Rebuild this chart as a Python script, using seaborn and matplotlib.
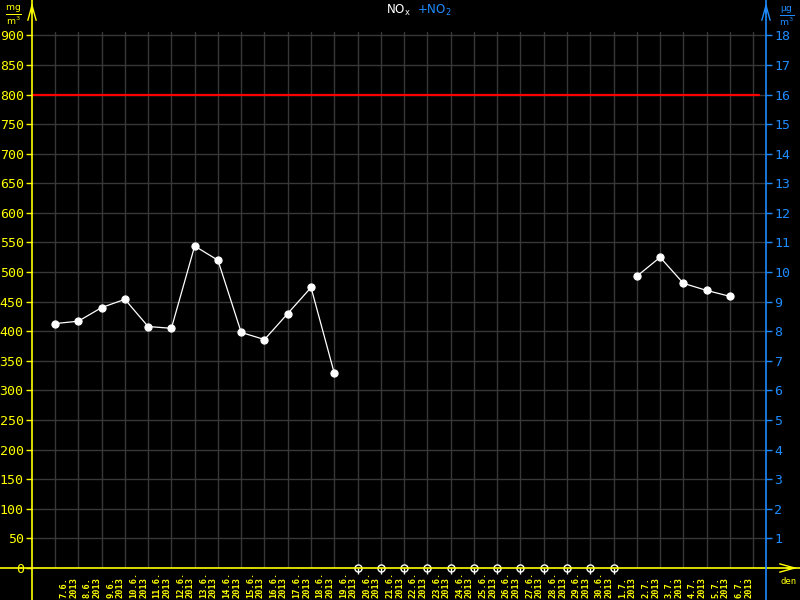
import matplotlib
matplotlib.use('Agg')
import matplotlib.pyplot as plt
import matplotlib.transforms as mtrans
import numpy as np
import pandas as pd
import seaborn as sns

# daily NOx averages, 7.6.2013 - 6.7.2013 (NaN = no data)
dates = ['7.6.', '8.6.', '9.6.', '10.6.', '11.6.', '12.6.', '13.6.', '14.6.',
         '15.6.', '16.6.', '17.6.', '18.6.', '19.6.', '20.6.', '21.6.', '22.6.',
         '23.6.', '24.6.', '25.6.', '26.6.', '27.6.', '28.6.', '29.6.', '30.6.',
         '1.7.', '2.7.', '3.7.', '4.7.', '5.7.', '6.7.']
year = '2013'
nan = np.nan
nox = [413, 417, 440, 454, 408, 405, 544, 520, 398, 386, 430, 474, 329,
       nan, nan, nan, nan, nan, nan, nan, nan, nan, nan, nan, nan,
       493, 525, 481, 469, 459]
limit = 800
left_ticks = list(range(0, 901, 50))
right_ticks = list(range(1, 19))

YELLOW = '#ffff00'
BLUE = '#1e8cff'
GRID = '#383838'

sns.set_theme(style='dark')
plt.rcParams['font.family'] = ['DejaVu Sans Mono', 'DejaVu Sans']

df = pd.DataFrame({'day': np.arange(len(dates)), 'nox': nox})
df['segment'] = df['nox'].isna().cumsum()
valid = df.dropna()
missing = df[df['nox'].isna()].assign(nox=0)

fig = plt.figure(figsize=(8, 6), dpi=100, facecolor='black')
ax = fig.add_axes([0.04, 0.05333, 0.9175, 0.8927])
ax.set_facecolor('black')

ax.set_xlim(-0.99, 30.55)
ax.set_ylim(0, 905)
ax.set_xticks(range(len(dates) + 1))
ax.set_yticks(left_ticks)
ax.grid(True, color=GRID, lw=1)
ax.set_axisbelow(True)
for s in ax.spines.values():
    s.set_visible(False)

ax.axhline(limit, xmin=0, xmax=0.9905, color='red', lw=1.6, zorder=3)

sns.lineplot(data=valid, x='day', y='nox', units='segment', estimator=None,
             color='white', lw=0.9, marker='o', markersize=5.2,
             markeredgecolor='white', ax=ax, zorder=4)
sns.scatterplot(data=missing, x='day', y='nox', marker='o', s=26,
                facecolor='black', edgecolor='white', linewidth=1,
                ax=ax, zorder=6, clip_on=False)
ax.plot(missing['day'], missing['nox'], ls='none', marker=3, markersize=4,
        color='white', mew=1, zorder=7, clip_on=False)

ax.set_xlabel('')
ax.set_ylabel('')
ax.tick_params(axis='x', colors=YELLOW, length=4, width=1, labelbottom=False)
ax.tick_params(axis='y', colors=YELLOW, length=4, width=1, pad=2, labelsize=9.5)

# axis lines running to the figure edges
ax.plot([0, 0], [-0.06, 1.061], transform=ax.transAxes, color=YELLOW, lw=1.2, clip_on=False, zorder=8)
ax.plot([-0.0436, 1.0463], [0, 0], transform=ax.transAxes, color=YELLOW, lw=1.2, clip_on=False, zorder=8)
ax.plot([1, 1], [-0.06, 1.061], transform=ax.transAxes, color=BLUE, lw=1.2, clip_on=False, zorder=8)

arrow = '->,head_length=0.9,head_width=0.25'
ax.annotate('', xy=(32, 600), xytext=(32, 584), xycoords='figure pixels',
            arrowprops=dict(arrowstyle=arrow, color=YELLOW, lw=1))
ax.annotate('', xy=(766, 600), xytext=(766, 584), xycoords='figure pixels',
            arrowprops=dict(arrowstyle=arrow, color=BLUE, lw=1))
ax.annotate('', xy=(800, 32), xytext=(784, 32), xycoords='figure pixels',
            arrowprops=dict(arrowstyle=arrow, color=YELLOW, lw=1))

ax2 = ax.twinx()
ax2.set_ylim(0, 905 / 50)
ax2.set_yticks(right_ticks)
ax2.grid(False)
for s in ax2.spines.values():
    s.set_visible(False)
ax2.tick_params(axis='y', colors=BLUE, length=4, width=1, pad=2, labelsize=9.5)

# date labels
trans = mtrans.blended_transform_factory(ax.transData, fig.transFigure)
for i, d in enumerate(dates):
    ax.text(i + 0.6, 2 / 600, f'{d}\n{year}', transform=trans, rotation=90,
            ha='center', va='bottom', multialignment='left', fontsize=6.2,
            linespacing=1.1, color=YELLOW, fontweight='bold')

fig.text(13 / 800, 1 - 15 / 600, r'$\frac{\mathrm{mg}}{\mathrm{m}^3}$', color=YELLOW,
         fontsize=9.5, ha='center', va='center')
fig.text(787 / 800, 1 - 16 / 600, r'$\frac{\mathrm{\mu g}}{\mathrm{m}^3}$', color=BLUE,
         fontsize=9.5, ha='center', va='center')
fig.text(398 / 800, 1 - 10 / 600, r'NO$_\mathrm{x}$', color='white', fontsize=8.5,
         ha='center', va='center', family='DejaVu Sans')
fig.text(434 / 800, 1 - 10 / 600, r'+NO$_2$', color=BLUE, fontsize=8.5,
         ha='center', va='center', family='DejaVu Sans')
fig.text(789 / 800, 1 - 581 / 600, 'den', color=YELLOW, fontsize=6.5,
         ha='center', va='center')

fig.savefig('out.png', dpi=100, facecolor='black')
